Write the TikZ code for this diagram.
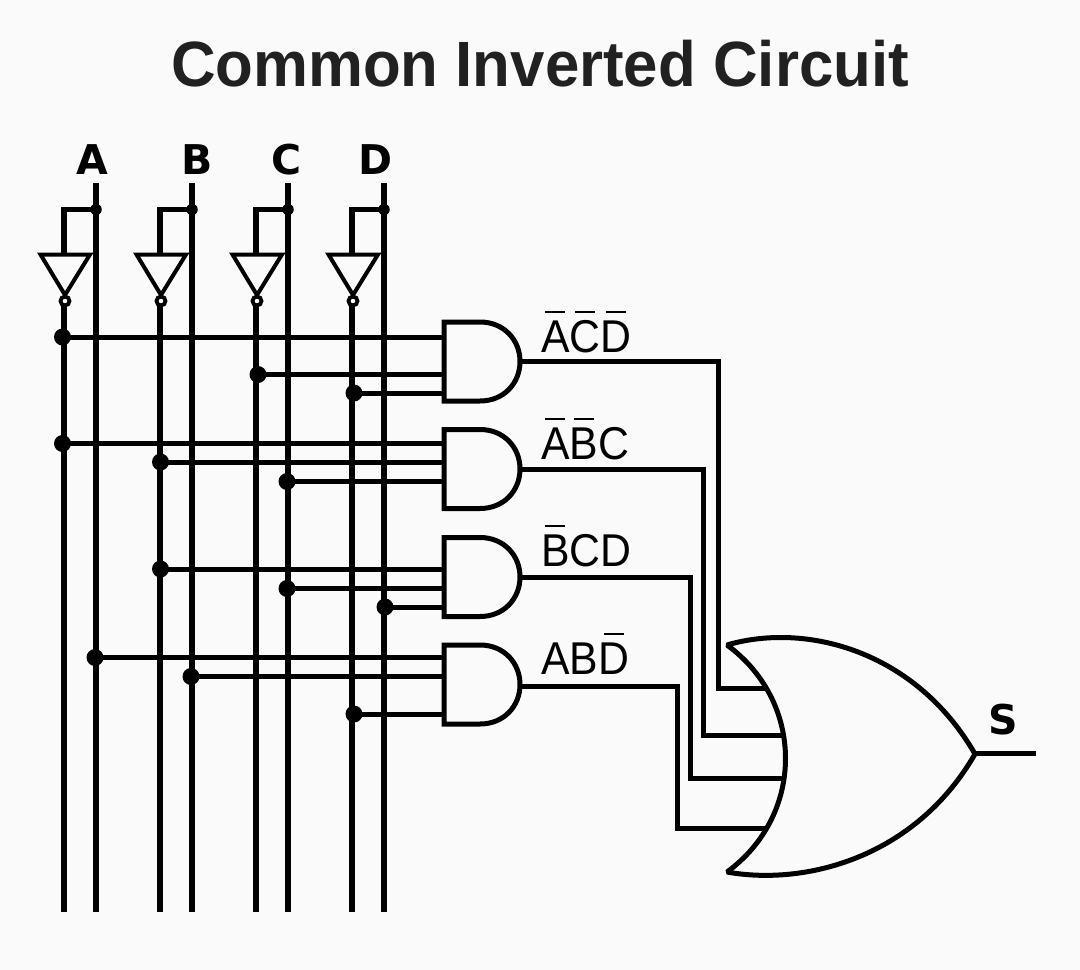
\documentclass[tikz,border=0pt]{standalone}
\usepackage{fontspec}
\setmainfont{Liberation Sans}
\newfontfamily\titlefont[FakeStretch=0.965]{Liberation Sans}
\newfontfamily\labfont[FakeStretch=0.93]{Liberation Sans}
\newfontfamily\pinfont{DejaVu Sans}
\newcommand\barred[1]{\ooalign{\hfil\rule[39pt]{20pt}{2.4pt}\hfil\cr #1\cr}}
\definecolor{bgc}{HTML}{FAFAFA}
\definecolor{inkc}{HTML}{212121}
\tikzset{
 wire/.style={line width=5pt,draw=black,line join=miter},
 bus/.style={line width=5.4pt,draw=black},
 gateshape/.style={line width=5pt,draw=black,fill=bgc,line join=miter},
 invshape/.style={line width=4pt,draw=black,fill=bgc,line join=miter},
 bigdot/.style={circle,fill=black,inner sep=0pt,minimum size=17pt},
 smalldot/.style={circle,fill=black,inner sep=0pt,minimum size=11.5pt},
 bubble/.style={circle,draw=black,fill=white,line width=3.8pt,inner sep=0pt,minimum size=9pt},
 pinlabel/.style={font=\pinfont\bfseries\fontsize{41}{41}\selectfont,text=black,inner sep=0pt,anchor=base},
 termlabel/.style={font=\labfont\fontsize{46}{46}\selectfont,text=black,inner sep=0pt,anchor=base west},
}
\begin{document}
\begin{tikzpicture}[x=1pt,y=-1pt]
\useasboundingbox (0,0) rectangle (1080,970);
\fill[bgc] (0,0) rectangle (1080,970);
\node[font=\titlefont\bfseries\fontsize{64}{64}\selectfont,text=inkc,inner sep=0pt,anchor=base] (title) at (540,86) {Common Inverted Circuit};
% pin labels
\node[pinlabel] (lA) at (92,174.5) {A};
\node[pinlabel] (lB) at (197.5,174.5) {B};
\node[pinlabel] (lC) at (286.5,174.5) {C};
\node[pinlabel] (lD) at (376,174.5) {D};
\node[pinlabel] (lS) at (1003.5,734) {S};
% buses
\foreach \n/\x in {A/96,B/192,C/288,D/384}{
 \coordinate (\n top) at (\x,183);
 \coordinate (\n bot) at (\x,912);
 \draw[bus] (\n top) -- (\n bot);
 \node[smalldot] (\n tap) at (\x,209.5) {};
}
% inverted lines and inverters
\foreach \n/\x in {A/64,B/160,C/256,D/352}{
 \coordinate (\n corner) at (\x,209.5);
 \coordinate (\n in) at (\x,254);
 \coordinate (\n out) at (\x,301);
 \coordinate (\n nbot) at (\x,912);
 \draw[bus,line join=miter] (\n tap.center) -- (\n corner) -- (\n in);
 \draw[bus] (\n out) -- (\n nbot);
 \draw[invshape] (\x-23.5,254.5) -- (\x+26,254.5) -- (\x+1,295) -- cycle;
 \node[bubble] (\n bub) at (\x+1,301) {};
}
% junctions and gate input wires
\foreach \j/\px/\py in {a1/62.5/337,a2/258/374.5,a3/354/393,b1/62.5/443.5,b2/160.5/462,b3/287/481.5,c1/160.5/569,c2/287/588.5,c3/385/607,d1/95/657.5,d2/191/676.5,d3/354/714}{
 \coordinate (\j pin) at (444,\py);
 \draw[wire] (\px,\py) -- (\j pin);
 \node[bigdot] (\j) at (\px,\py) {};
}
% AND gates
\foreach \t in {322,429.5,537.5,645}{
 \draw[gateshape] (444,\t) -- (480,\t) .. controls (504,\t) and (520,\t+18) .. (520,\t+39.5)
   .. controls (520,\t+61) and (504,\t+79) .. (480,\t+79) -- (444,\t+79) -- cycle;
}
% OR gate
\draw[line width=5pt,draw=black,fill=bgc,line join=miter,miter limit=2]
 (727,645) .. controls (805,622) and (915,650) .. (975,754)
 .. controls (915,858) and (805,886) .. (727,872)
 .. controls (805,815) and (805,702) .. (727,645) -- cycle;
\coordinate (orout) at (975,753);
\coordinate (sout) at (1036,753);
\draw[wire] (orout) -- (sout);
% gate outputs to OR inputs
\coordinate (g1o) at (520,361.5);
\coordinate (g2o) at (520,469);
\coordinate (g3o) at (520,577);
\coordinate (g4o) at (520,686.5);
\coordinate (o1) at (765,688);
\coordinate (o2) at (784,735);
\coordinate (o3) at (785,778);
\coordinate (o4) at (768,828);
\draw[wire] (g1o) -- (718,361.5) -- (718,688) -- (o1);
\draw[wire] (g2o) -- (703,469) -- (703,735) -- (o2);
\draw[wire] (g3o) -- (690,577) -- (690,778) -- (o3);
\draw[wire] (g4o) -- (677,686.5) -- (677,828) -- (o4);
% term labels
\node[termlabel] (t1) at (541,352) {\barred{A}\barred{C}\barred{D}};
\node[termlabel] (t2) at (541,459) {\barred{A}\barred{B}C};
\node[termlabel] (t3) at (541,566) {\barred{B}CD};
\node[termlabel] (t4) at (541,674) {AB\barred{D}};
\end{tikzpicture}
\end{document}
